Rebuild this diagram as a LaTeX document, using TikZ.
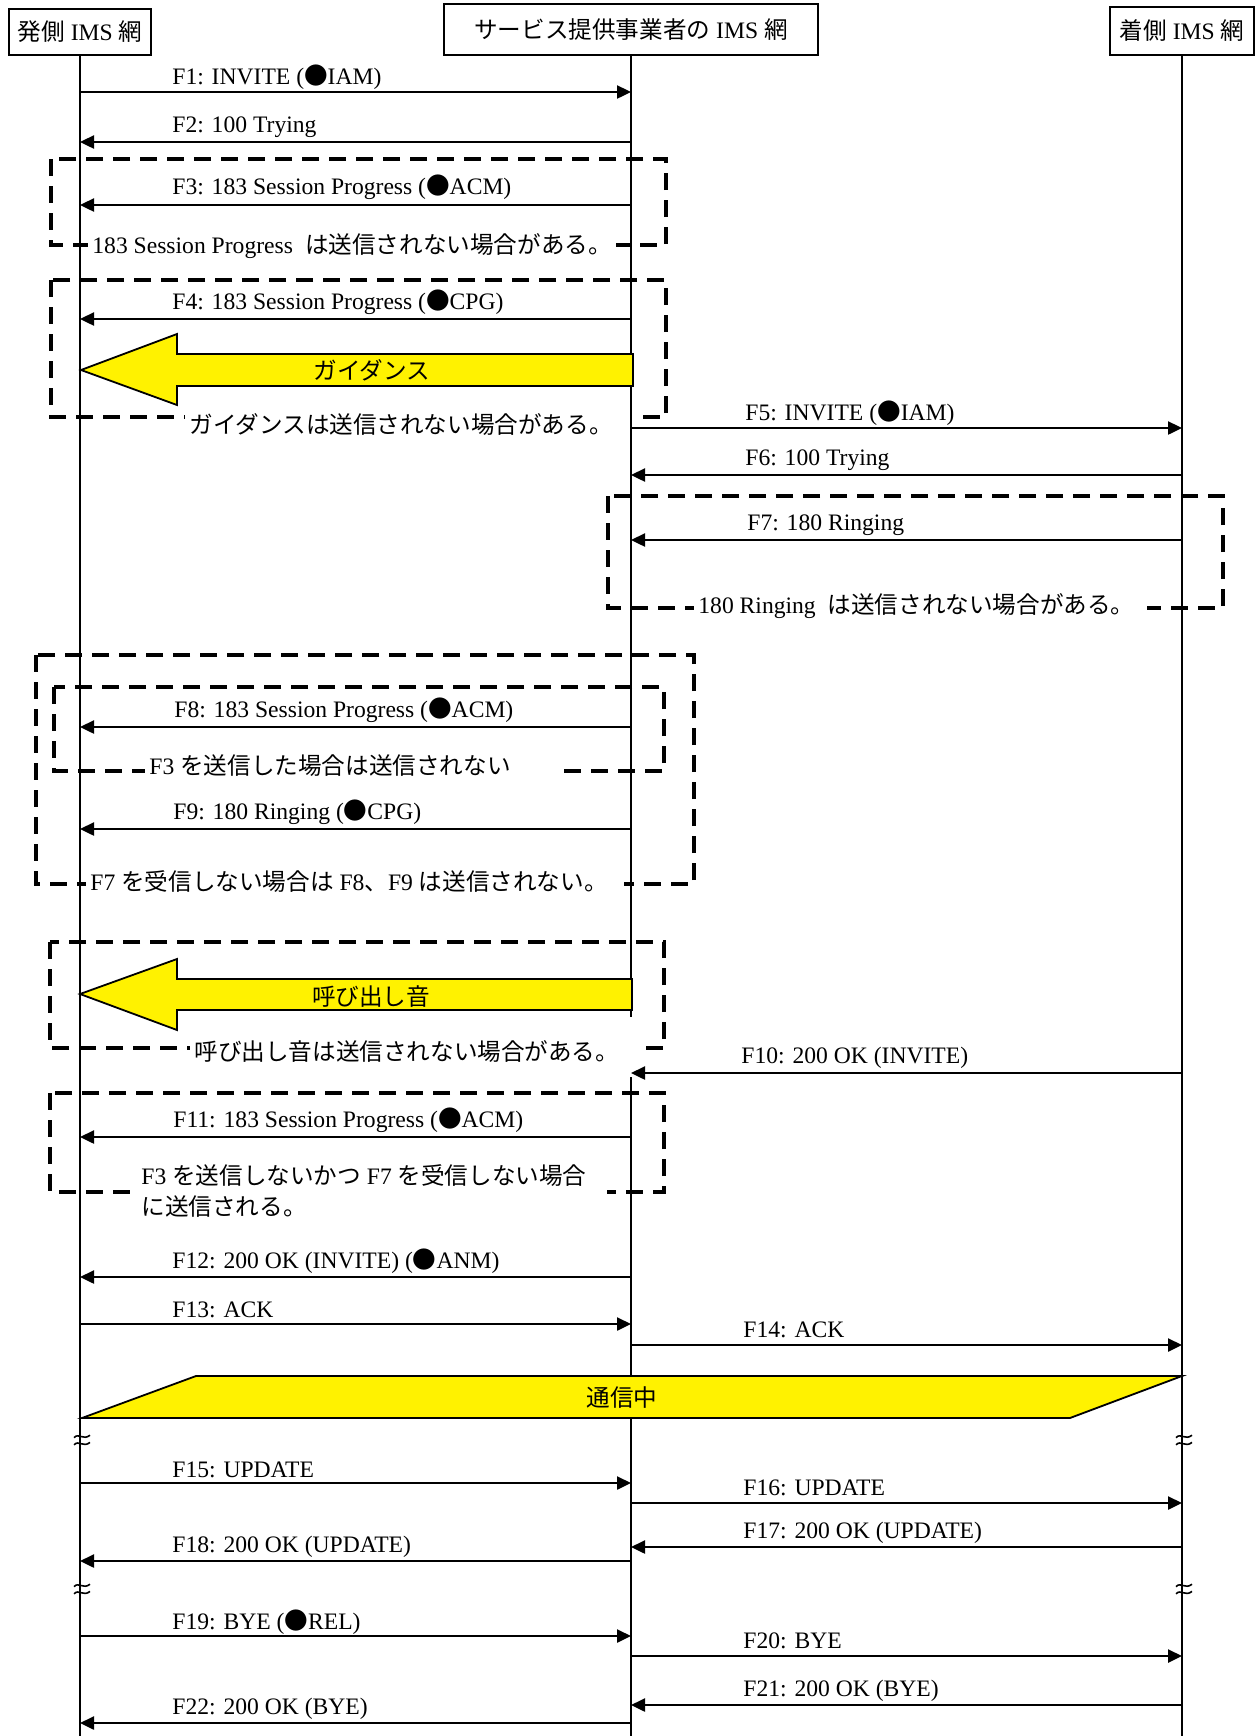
\documentclass[tikz,border=0pt]{standalone}
\usepackage{fontspec}
\setmainfont{Liberation Serif}
\newfontfamily\jpfnt{Noto Sans CJK JP}
\newcommand\jtx[1]{{\jpfnt #1}}
\newcommand\bdot{{\jpfnt ●}}
\usetikzlibrary{arrows.meta}
\newcommand\seqmsg[7]{% from-x, to-x, y, label-x, name, text, label offset
  \coordinate (#5a) at (#1,#3);
  \coordinate (#5b) at (#2,#3);
  \draw[msgline] (#5a) -- (#5b);
  \node[lbl] (#5l) at (#4,#3-#7) {#6};}
\newcommand\brkmark[3]{% x, y, name
  \coordinate (#3) at (#1,#2);
  \draw[line width=0.8pt] ([xshift=-3.5pt,yshift=1.2pt]#3) .. controls ([xshift=-1pt,yshift=3.8pt]#3) and ([xshift=1pt,yshift=-0.4pt]#3) .. ([xshift=4.5pt,yshift=2.4pt]#3);
  \draw[line width=0.8pt] ([xshift=-3.5pt,yshift=-2.4pt]#3) .. controls ([xshift=-1pt,yshift=0.2pt]#3) and ([xshift=1pt,yshift=-4pt]#3) .. ([xshift=4.5pt,yshift=-1.2pt]#3);}
\begin{document}
\begin{tikzpicture}[x=0.5pt,y=-0.5pt,
  every node/.style={font=\fontsize{11.8}{15.5}\selectfont, inner sep=0pt},
  head/.style={draw, line width=1pt, fill=white},
  life/.style={line width=1.2pt},
  msgline/.style={line width=1.2pt, -{Triangle[length=7pt,width=6.5pt]}},
  lbl/.style={anchor=base west},
  dbox/.style={draw, line width=1.7pt, dash pattern=on 8.5pt off 5pt},
  note/.style={fill=white, inner sep=2pt, anchor=west},
  yel/.style={draw=black, line width=0.9pt, fill=yellow, line join=miter}]
\useasboundingbox (0,0) rectangle (1255,1736);
\fill[white] (0,0) rectangle (1255,1736);

% head boxes
\node[head, minimum width=71pt, minimum height=23pt] (A) at (80,32) {\jtx{発側} IMS \jtx{網}};
\node[head, minimum width=187pt, minimum height=25.5pt] (B) at (631,29.5) {\jtx{サービス提供事業者の} IMS \jtx{網}};
\node[head, minimum width=72pt, minimum height=24pt] (C) at (1182,31) {\jtx{着側} IMS \jtx{網}};

% dashed condition boxes
\draw[dbox] (51,159) rectangle (666,245);
\draw[dbox] (51,280) rectangle (666,417);
\draw[dbox] (608,496) rectangle (1223,608);
\draw[dbox] (36,655) rectangle (694,884);
\draw[dbox] (54,687) rectangle (664,771);
\draw[dbox] (50,942) rectangle (664,1048);
\draw[dbox] (50,1093) rectangle (664,1192);

% notes
\node[note] (n1) at (88,246) {183 Session Progress\hspace{6pt}\jtx{は送信されない場合がある。}};
\node[note] (n2) at (185,424) {\jtx{ガイダンスは送信されない場合がある。}\kern8pt};
\node[note] (n3) at (694,606) {180 Ringing\hspace{6pt}\jtx{は送信されない場合がある。}\kern4pt};
\node[note] (n4) at (86,882) {F7 \jtx{を受信しない場合は} F8\jtx{、}F9 \jtx{は送信されない。}\kern6pt};
\node[note] (n5) at (145,766) {F3 \jtx{を送信した場合は送信されない}\kern24pt};
\node[note] (n6) at (190,1051) {\jtx{呼び出し音は送信されない場合がある。}\kern8pt};
\node[note, align=left] (n7) at (137,1191) {F3 \jtx{を送信しないかつ} F7 \jtx{を受信しない場合}\kern8pt\\\jtx{に送信される。}};

% lifelines
\coordinate (Aend) at (80,1736);
\coordinate (Bg1) at (631,1017);
\coordinate (Bg2) at (631,1077);
\coordinate (Bend) at (631,1736);
\coordinate (Cend) at (1182,1736);
\draw[life] (A.south) -- (Aend);
\draw[life] (B.south) -- (Bg1);
\draw[life] (Bg2) -- (Bend);
\draw[life] (C.south) -- (Cend);

% yellow shapes
\draw[yel] (81,370) -- (177,334) -- (177,354) -- (633,354) -- (633,386) -- (177,386) -- (177,405) -- cycle;
\node (g1) at (372,370) {\jtx{ガイダンス}};
\draw[yel] (80,994) -- (177,959) -- (177,979) -- (632,979) -- (632,1010) -- (177,1010) -- (177,1030) -- cycle;
\node (g2) at (371,997) {\jtx{呼び出し音}};
\draw[yel] (196,1376) -- (1182,1376) -- (1070,1418) -- (82,1418) -- cycle;
\node (g3) at (622,1398) {\jtx{通信中}};

% break marks
\brkmark{81}{1440}{k1}
\brkmark{1183}{1440}{k2}
\brkmark{81}{1589}{k3}
\brkmark{1183}{1589}{k4}

% messages
\seqmsg{80}{631}{92}{172}{f1}{F1: INVITE (\bdot IAM)}{8}
\seqmsg{631}{80}{142}{172}{f2}{F2: 100 Trying}{10}
\seqmsg{631}{80}{205}{172}{f3}{F3: 183 Session Progress (\bdot ACM)}{11}
\seqmsg{631}{80}{319}{172}{f4}{F4: 183 Session Progress (\bdot CPG)}{10}
\seqmsg{631}{1182}{428}{745}{f5}{F5: INVITE (\bdot IAM)}{8}
\seqmsg{1182}{631}{475}{745}{f6}{F6: 100 Trying}{10}
\seqmsg{1182}{631}{540}{747}{f7}{F7: 180 Ringing}{10}
\seqmsg{631}{80}{727}{174}{f8}{F8: 183 Session Progress (\bdot ACM)}{10}
\seqmsg{631}{80}{829}{173}{f9}{F9: 180 Ringing (\bdot CPG)}{10}
\seqmsg{1182}{631}{1073}{741}{f10}{F10: 200 OK (INVITE)}{10}
\seqmsg{631}{80}{1137}{173}{f11}{F11: 183 Session Progress (\bdot ACM)}{10}
\seqmsg{631}{80}{1277}{172}{f12}{F12: 200 OK (INVITE) (\bdot ANM)}{9}
\seqmsg{80}{631}{1324}{172}{f13}{F13: ACK}{7}
\seqmsg{631}{1182}{1345}{743}{f14}{F14: ACK}{8}
\seqmsg{80}{631}{1483}{172}{f15}{F15: UPDATE}{6}
\seqmsg{631}{1182}{1503}{743}{f16}{F16: UPDATE}{8}
\seqmsg{1182}{631}{1547}{743}{f17}{F17: 200 OK (UPDATE)}{9}
\seqmsg{631}{80}{1561}{172}{f18}{F18: 200 OK (UPDATE)}{9}
\seqmsg{80}{631}{1636}{172}{f19}{F19: BYE (\bdot REL)}{7}
\seqmsg{631}{1182}{1656}{743}{f20}{F20: BYE}{8}
\seqmsg{1182}{631}{1705}{743}{f21}{F21: 200 OK (BYE)}{9}
\seqmsg{631}{80}{1723}{172}{f22}{F22: 200 OK (BYE)}{9}
\end{tikzpicture}
\end{document}
